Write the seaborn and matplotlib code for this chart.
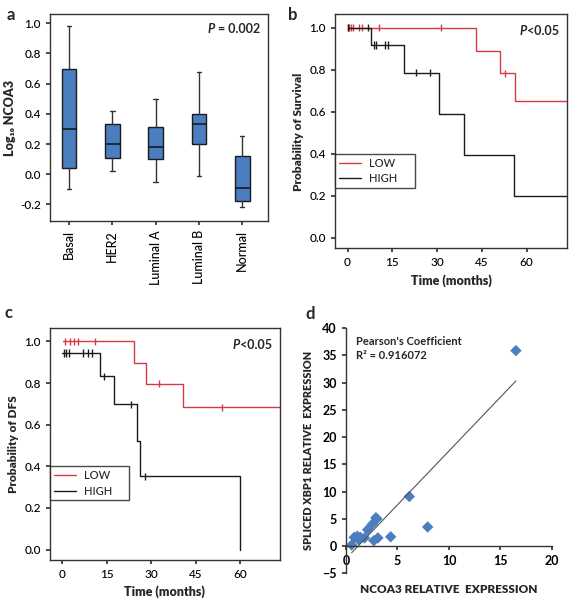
"""
Four-panel figure: NCOA3 by subtype, survival / DFS curves, XBP1 vs NCOA3
"""

import numpy as np
import pandas as pd
import matplotlib
matplotlib.use('Agg')
import matplotlib.pyplot as plt
from matplotlib.lines import Line2D
import seaborn as sns

# ---- panel a: box statistics (low whisker, q1, median, q3, high whisker)
SUBTYPES = ['Basal', 'HER2', 'Luminal A', 'Luminal B', 'Normal']
WHISK_LO = [-0.10, 0.02, -0.05, -0.01, -0.22]
Q1 = [0.04, 0.11, 0.10, 0.20, -0.18]
MEDIAN = [0.30, 0.20, 0.18, 0.33, -0.09]
Q3 = [0.70, 0.33, 0.31, 0.40, 0.12]
WHISK_HI = [0.98, 0.42, 0.50, 0.68, 0.25]

# ---- panel b: overall survival (step curves + censor times)
B_LOW_T = [0, 43.1, 50.9, 56.1, 76]
B_LOW_S = [1.0, 0.889, 0.783, 0.652, 0.652]
B_LOW_CENS = [0.0, 0.4, 1.0, 1.7, 3.9, 4.7, 10.6, 31.2, 52.8]
B_HIGH_T = [0, 7.8, 18.8, 30.6, 39.0, 55.9, 76]
B_HIGH_S = [1.0, 0.917, 0.786, 0.590, 0.395, 0.198, 0.198]
B_HIGH_CENS = [0.0, 6.7, 8.9, 9.7, 12.5, 13.6, 22.8, 27.5]

# ---- panel c: disease free survival
C_LOW_T = [0.3, 24.3, 28.3, 40.8, 76]
C_LOW_S = [1.0, 0.897, 0.797, 0.683, 0.683]
C_LOW_CENS = [0.9, 2.4, 4.0, 5.4, 11.1, 32.6, 54.0]
C_HIGH_T = [0, 12.8, 17.3, 25.2, 26.1, 60.0]
C_HIGH_S = [0.944, 0.833, 0.697, 0.520, 0.352, 0.0]
C_HIGH_CENS = [0.5, 1.2, 2.2, 7.1, 8.8, 10.0, 14.2, 23.2, 27.8]

# ---- panel d: spliced XBP1 vs NCOA3
NCOA3_EXPR = [16.5, 6.15, 7.93, 4.34, 2.9, 3.0, 2.55, 2.1, 3.1, 2.7, 1.8, 1.4, 1.1, 0.8, 1.2, 0.55]
XBP1_EXPR = [35.9, 9.1, 3.5, 1.7, 5.2, 5.0, 4.0, 3.0, 1.5, 1.0, 1.5, 1.6, 1.8, 1.6, 1.2, 0.2]

RED = '#d63a45'
BLACK = '#1a1a1a'
BLUE = '#4a7ebf'

sns.set_theme(style='ticks')
plt.rcParams['font.family'] = ['Lato', 'DejaVu Sans']
plt.rcParams['font.weight'] = 'medium'
plt.rcParams['axes.edgecolor'] = '#333333'
plt.rcParams['axes.linewidth'] = 1.0
plt.rcParams['xtick.color'] = '#333333'
plt.rcParams['ytick.color'] = '#333333'
plt.rcParams['xtick.labelcolor'] = 'black'
plt.rcParams['ytick.labelcolor'] = 'black'
plt.rcParams['xtick.major.size'] = 3
plt.rcParams['ytick.major.size'] = 3

fig = plt.figure(figsize=(5.73, 6.03), dpi=100)
ax_a = fig.add_axes([0.0873, 0.6335, 0.380, 0.343])
ax_b = fig.add_axes([0.5846, 0.588, 0.405, 0.388])
ax_c = fig.add_axes([0.0873, 0.0713, 0.401, 0.384])
ax_d = fig.add_axes([0.6038, 0.0493, 0.3595, 0.4063])

TICK_FS = 8.5
LAB_FS = 8.5
HEAVY = 'heavy'


def p_label(ax, rest, fs=9):
    # italic bold P followed by the remaining text, pinned top right
    t = ax.text(0.965, 0.955, rest, transform=ax.transAxes, ha='right', va='top',
                fontsize=fs, fontweight='bold')
    ax.annotate('P', xy=(0, 0), xycoords=t, ha='right', va='bottom',
                fontsize=fs, fontweight='bold', fontstyle='italic')


# ---------------- panel a
stats = []
for i, name in enumerate(SUBTYPES):
    stats.append(dict(label=name, whislo=WHISK_LO[i], q1=Q1[i], med=MEDIAN[i],
                      q3=Q3[i], whishi=WHISK_HI[i]))
ax_a.bxp(stats, positions=range(len(SUBTYPES)), widths=0.34, patch_artist=True,
         showfliers=False,
         boxprops=dict(facecolor=BLUE, edgecolor=BLACK, linewidth=1.0),
         medianprops=dict(color=BLACK, linewidth=1.2),
         whiskerprops=dict(color='#333333', linewidth=1.0),
         capprops=dict(color='#333333', linewidth=1.0), capwidths=0.1)
ax_a.set_xlim(-0.44, 4.59)
ax_a.set_ylim(-0.31, 1.06)
ax_a.set_yticks(np.arange(-0.2, 1.01, 0.2))
ax_a.set_yticklabels([f'{v:.1f}' for v in np.arange(-0.2, 1.01, 0.2)], fontsize=TICK_FS)
ax_a.set_xticks(range(len(SUBTYPES)))
ax_a.set_xticklabels(SUBTYPES, rotation=90, fontsize=TICK_FS + 0.5)
ax_a.set_ylabel('Log₁₀ NCOA3', fontsize=9, fontweight=HEAVY, labelpad=3)
p_label(ax_a, ' = 0.002')


# ---------------- panels b and c
def step_value(t, times, surv):
    idx = np.searchsorted(times, t, side='right') - 1
    return surv[max(idx, 0)]


def km_panel(ax, low_t, low_s, low_c, high_t, high_s, high_c, ylabel):
    curves = pd.concat([
        pd.DataFrame({'time': low_t, 'surv': low_s, 'group': 'LOW'}),
        pd.DataFrame({'time': high_t, 'surv': high_s, 'group': 'HIGH'}),
    ])
    sns.lineplot(data=curves, x='time', y='surv', hue='group', estimator=None,
                 sort=False, drawstyle='steps-post', palette={'LOW': RED, 'HIGH': BLACK},
                 linewidth=1.0, legend=False, ax=ax)
    cens = pd.concat([
        pd.DataFrame({'time': low_c, 'surv': [step_value(t, low_t, low_s) for t in low_c],
                      'group': 'LOW'}),
        pd.DataFrame({'time': high_c, 'surv': [step_value(t, high_t, high_s) for t in high_c],
                      'group': 'HIGH'}),
    ])
    sns.scatterplot(data=cens, x='time', y='surv', hue='group', marker='|', s=26,
                    linewidth=1.0, palette={'LOW': RED, 'HIGH': BLACK}, legend=False, ax=ax)
    ax.set_xlim(-4.2, 73.5)
    ax.set_ylim(-0.05, 1.062)
    ax.set_xticks([0, 15, 30, 45, 60])
    ax.set_yticks(np.arange(0, 1.01, 0.2))
    ax.set_yticklabels([f'{v:.1f}' for v in np.arange(0, 1.01, 0.2)])
    ax.tick_params(labelsize=TICK_FS)
    ax.set_xlabel('Time (months)', fontsize=9, fontweight=HEAVY, labelpad=4)
    ax.set_ylabel(ylabel, fontsize=LAB_FS, fontweight=HEAVY, labelpad=4)
    handles = [Line2D([], [], color=RED, lw=1.0), Line2D([], [], color=BLACK, lw=1.0)]
    leg = ax.legend(handles, ['LOW', 'HIGH'], loc='upper left',
                    bbox_to_anchor=(0, 0, 0.345, 0.405), mode='expand',
                    frameon=True, fancybox=False, edgecolor=BLACK, borderaxespad=0,
                    fontsize=8, handlelength=2.0, borderpad=0.35, labelspacing=0.4,
                    handletextpad=0.7)
    leg.get_frame().set_linewidth(1.0)
    p_label(ax, '<0.05')


km_panel(ax_b, B_LOW_T, B_LOW_S, B_LOW_CENS, B_HIGH_T, B_HIGH_S, B_HIGH_CENS,
         'Probability of Survival')
km_panel(ax_c, C_LOW_T, C_LOW_S, C_LOW_CENS, C_HIGH_T, C_HIGH_S, C_HIGH_CENS,
         'Probability of DFS')

# ---------------- panel d
df_d = pd.DataFrame({'ncoa3': NCOA3_EXPR, 'xbp1': XBP1_EXPR})
sns.regplot(data=df_d, x='ncoa3', y='xbp1', ci=None, truncate=True, scatter=False,
            line_kws=dict(color='#555555', linewidth=0.8), ax=ax_d)
sns.scatterplot(data=df_d, x='ncoa3', y='xbp1', marker='D', s=34, color=BLUE,
                edgecolor='none', ax=ax_d)
ax_d.set_xlim(0, 20)
ax_d.set_ylim(-5, 40)
ax_d.spines['top'].set_visible(False)
ax_d.spines['right'].set_visible(False)
ax_d.spines['bottom'].set_position(('data', 0))
ax_d.set_xticks([0, 5, 10, 15, 20])
ax_d.set_yticks(range(-5, 41, 5))
ax_d.tick_params(labelsize=TICK_FS + 0.5)
for lbl in ax_d.get_xticklabels() + ax_d.get_yticklabels():
    lbl.set_fontweight('bold')
ax_d.set_xlabel('NCOA3 RELATIVE  EXPRESSION', fontsize=8.5, fontweight=HEAVY,
                labelpad=0)
ax_d.xaxis.set_label_coords(0.5, -0.045)
ax_d.set_ylabel('SPLICED XBP1 RELATIVE  EXPRESSION', fontsize=7.8,
                fontweight=HEAVY, labelpad=6)
ax_d.text(1.0, 37.5, "Pearson's Coefficient", fontsize=8, fontweight='bold', va='center')
ax_d.text(1.0, 35.0, 'R² = 0.916072', fontsize=8, fontweight='bold', va='center')

# panel letters
for letter, x, y in [('a', 0.012, 0.988), ('b', 0.503, 0.988),
                     ('c', 0.008, 0.495), ('d', 0.533, 0.492)]:
    fig.text(x, y, letter, fontsize=12, fontweight='bold', va='top', ha='left')

fig.savefig('out.png', dpi=100)
